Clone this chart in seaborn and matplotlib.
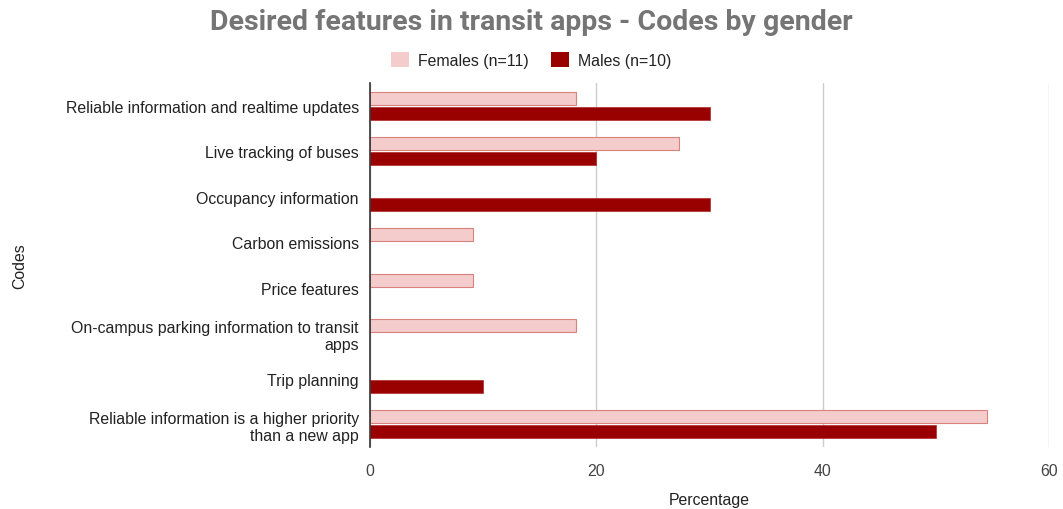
import matplotlib
matplotlib.use("Agg")
import matplotlib.pyplot as plt
from matplotlib.patches import Patch
import seaborn as sns
import pandas as pd

codes = [
    "Reliable information and realtime updates",
    "Live tracking of buses",
    "Occupancy information",
    "Carbon emissions",
    "Price features",
    "On-campus parking information to transit\napps",
    "Trip planning",
    "Reliable information is a higher priority\nthan a new app",
]
groups = ["Females (n=11)", "Males (n=10)"]
females = [18.18, 27.27, 0, 9.09, 9.09, 18.18, 0, 54.55]
males = [30, 20, 30, 0, 0, 0, 10, 50]

df = pd.DataFrame({
    "Codes": codes * 2,
    "Group": [groups[0]] * len(codes) + [groups[1]] * len(codes),
    "Percentage": females + males,
})
df_plot = df[df["Percentage"] > 0]

sns.set_theme(style="white")
plt.rcParams["font.family"] = ["Liberation Sans", "DejaVu Sans"]

fs = 11.4
fig = plt.figure(figsize=(10.63, 5.10), dpi=100)
ax = fig.add_axes([0.348, 0.122, 0.639, 0.713])

palette = {groups[0]: "#f4cccc", groups[1]: "#990000"}
sns.barplot(
    data=df_plot, y="Codes", x="Percentage", hue="Group",
    order=codes, hue_order=groups, palette=palette,
    orient="h", width=0.66, gap=0.13, dodge=True,
    edgecolor="#cc4125", linewidth=0.8, saturation=1, ax=ax,
    legend=False,
)
for patch in ax.patches:
    if patch.get_facecolor()[0] < 0.7:
        patch.set_edgecolor("#b02a2a")
        patch.set_linewidth(0.5)
    else:
        patch.set_edgecolor("#d9817d")

ax.set_xlim(0, 60)
ax.set_xticks([0, 20, 40, 60])
ax.xaxis.grid(True, color="#cccccc", linewidth=1)
ax.set_axisbelow(True)
for side in ["top", "right", "bottom"]:
    ax.spines[side].set_visible(False)
ax.spines["left"].set_color("#333333")
ax.spines["left"].set_linewidth(1.2)
ax.tick_params(axis="x", colors="#444444", labelsize=fs, length=0, pad=12)
ax.tick_params(axis="y", colors="#222222", labelsize=fs, length=0, pad=8)
for lab in ax.get_yticklabels():
    lab.set_multialignment("right")
ax.set_xlabel("Percentage", fontsize=fs, color="#222222", labelpad=10)
ax.set_ylabel("Codes", fontsize=fs, color="#222222")
ax.yaxis.set_label_coords(-0.505, 0.5)

fig.suptitle("Desired features in transit apps - Codes by gender",
             x=0.5, y=0.983, fontsize=20.5, fontweight="bold", color="#757575",
             family=["Roboto", "DejaVu Sans"])

handles = [Patch(facecolor=palette[g], edgecolor="none") for g in groups]
fig.legend(handles, groups, loc="center", bbox_to_anchor=(0.5, 0.881),
           ncol=2, frameon=False, fontsize=fs, handlelength=1.1,
           handleheight=1.1, columnspacing=1.4, handletextpad=0.6,
           labelcolor="#222222")

fig.savefig("out.png", dpi=100)
